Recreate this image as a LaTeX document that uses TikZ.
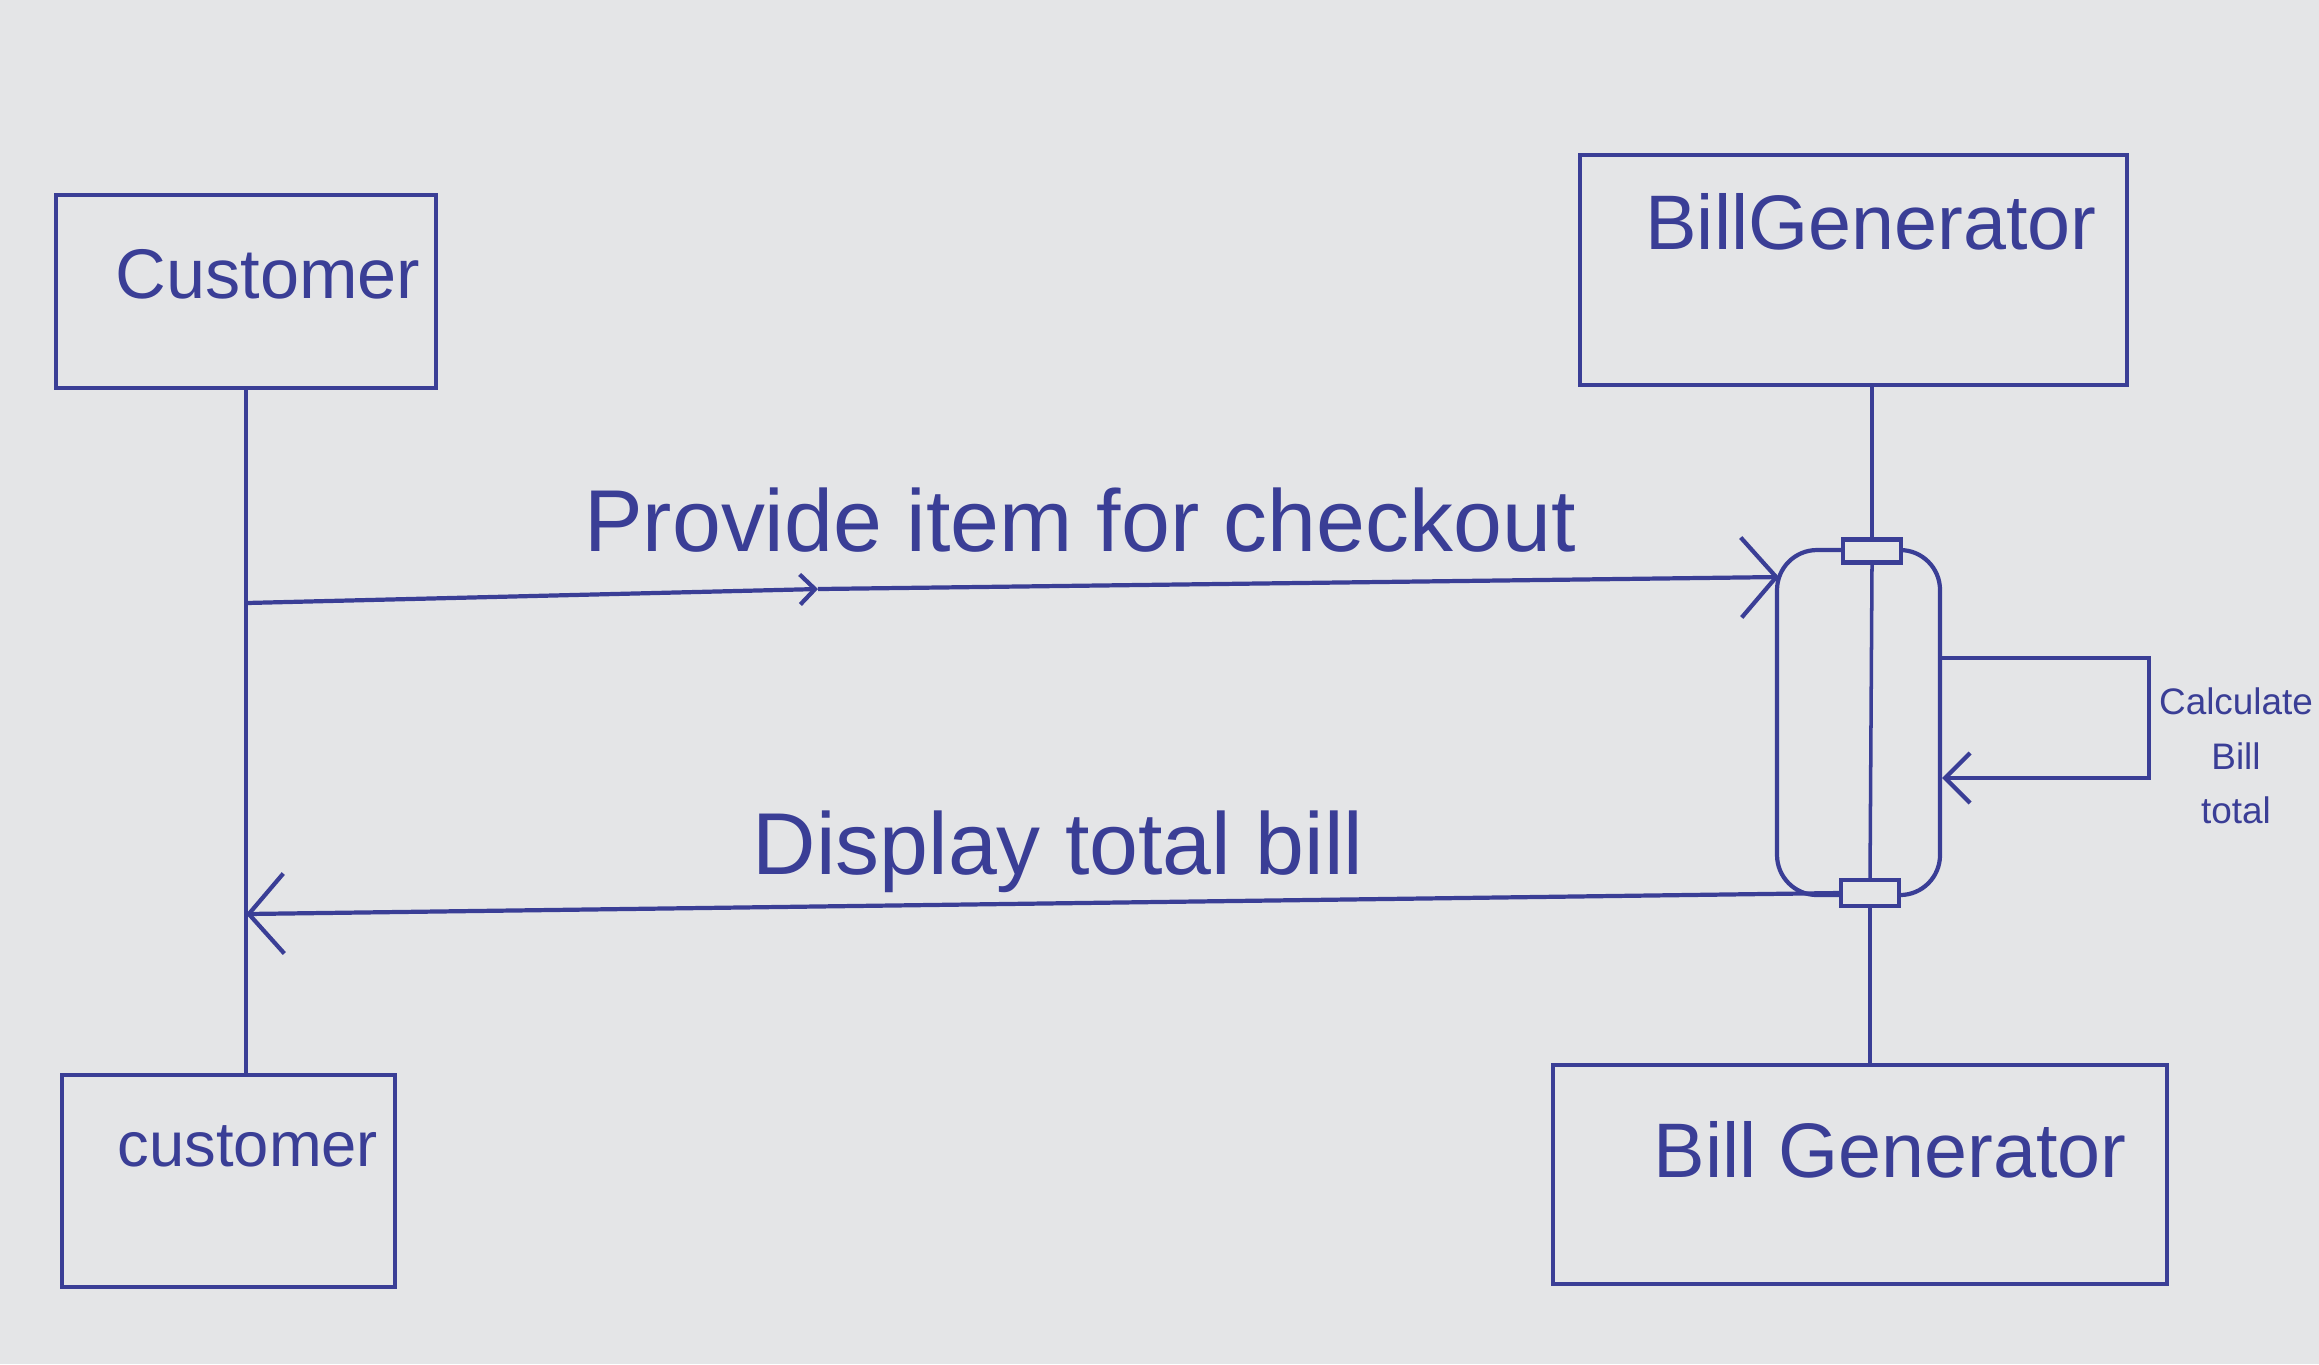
\documentclass[tikz,border=0pt]{standalone}
\usepackage{fontspec}
\setmainfont{Liberation Sans}
\usetikzlibrary{arrows.meta}
\definecolor{ink}{RGB}{58,62,150}
\definecolor{paper}{RGB}{228,229,231}
\tikzset{
lifebox/.style={draw=ink, line width=1.2pt, rectangle, inner sep=0pt}, % the boxes of the two participants
boxlabel/.style={text=ink, inner sep=0pt}, % names written inside the boxes
life/.style={draw=ink, line width=1pt}, % lifelines
msg/.style={draw=ink, line width=1.2pt, -{Straight Barb[length=3.5mm,width=8mm]}}, % messages
msgmid/.style={draw=ink, line width=1.2pt, -{Straight Barb[length=1.5mm,width=3mm]}}, % small head half way
selfmsg/.style={draw=ink, line width=1.2pt, -{Straight Barb[length=2.5mm,width=5mm]}}, % message to itself
msglabel/.style={text=ink, font=\fontsize{25}{28}\selectfont, inner sep=0pt},
actbar/.style={draw=ink, line width=1.2pt, rounded corners=4mm, inner sep=0pt}, % activation
actcap/.style={draw=ink, fill=paper, line width=1.2pt, minimum width=5.8mm, inner sep=0pt}, % small boxes on the lifeline
}
\begin{document}
\begin{tikzpicture}
                \fill[paper] (0,0) rectangle (23.19,-13.64);
                \useasboundingbox (0,0) rectangle (23.19,-13.64);

                % participants, top
                \node[lifebox, minimum width=3.8cm, minimum height=1.93cm] (custTop) at (2.46,-2.915) {};
                \node[boxlabel, font=\fontsize{20}{24}\selectfont] (custTopName) at (2.68,-2.74) {Customer};
                \node[lifebox, minimum width=5.47cm, minimum height=2.3cm] (billTop) at (18.535,-2.70) {};
                \node[boxlabel, font=\fontsize{22}{26}\selectfont] (billTopName) at (18.71,-2.22) {BillGenerator};

                % participants, bottom
                \node[lifebox, minimum width=3.33cm, minimum height=2.12cm] (custBot) at (2.285,-11.81) {};
                \node[boxlabel, font=\fontsize{18}{22}\selectfont] (custBotName) at (2.48,-11.46) {customer};
                \node[lifebox, minimum width=6.14cm, minimum height=2.19cm] (billBot) at (18.60,-11.745) {};
                \node[boxlabel, font=\fontsize{22}{26}\selectfont] (billBotName) at (18.90,-11.50) {Bill Generator};

                % activation of the bill generator
                \node[actbar, minimum width=1.63cm, minimum height=3.45cm] (act) at (18.585,-7.225) {};
                \node[actcap, minimum height=2.3mm] (actTop) at (18.72,-5.51) {};
                \node[actcap, minimum height=2.6mm] (actBot) at (18.70,-8.93) {};

                % lifelines
                \draw[life] (custTop.south) -- (custTop.south |- custBot.north);
                \draw[life] (actTop |- billTop.south) -- (actTop.north);
                \draw[life] (actTop.south) -- (actBot.north);
                \draw[life] (actBot.south) -- (actBot.south |- billBot.north);

                % messages
                \coordinate (provStart) at (custTop.south |- 0,-6.03);
                \coordinate (provMid) at (8.18,-5.89);
                \coordinate (provEnd) at (17.79,-5.77);
                \draw[msgmid] (provStart) -- (provMid);
                \draw[msg] (provMid) -- (provEnd);
                \node[msglabel] (provLbl) at (10.80,-5.20) {Provide item for checkout};

                \coordinate (calcOut) at (act.east |- 0,-6.58);
                \coordinate (calcIn) at (act.east |- 0,-7.78);
                \draw[selfmsg] (calcOut) -- (21.49,-6.58) |- (calcIn);
                \node[text=ink, align=center, inner sep=0pt, font=\fontsize{10.5}{15.5}\selectfont] (calcLbl) at (22.36,-7.56) {Calculate\\Bill\\total};

                \coordinate (showEnd) at (custTop.south |- 0,-9.14);
                \draw[msg] (actBot.west) -- (showEnd);
                \node[msglabel] (showLbl) at (10.58,-8.52) {Display total bill};
\end{tikzpicture}
\end{document}
